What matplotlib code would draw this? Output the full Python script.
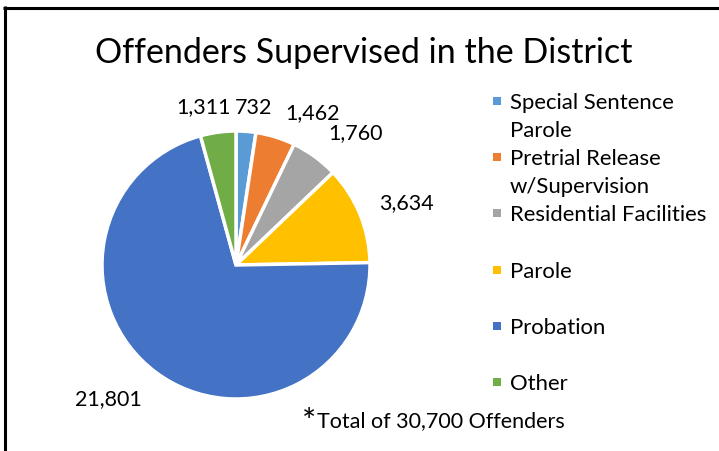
import matplotlib
matplotlib.use("Agg")
import matplotlib.pyplot as plt
from matplotlib.patches import Rectangle
from matplotlib.lines import Line2D
import numpy as np

# ---- data ----
categories = ["Special Sentence\nParole", "Pretrial Release\nw/Supervision",
              "Residential Facilities", "Parole", "Probation", "Other"]
values = [732, 1462, 1760, 3634, 21801, 1311]
colors = ["#5B9BD5", "#ED7D31", "#A5A5A5", "#FFC000", "#4472C4", "#70AD47"]
title = "Offenders Supervised in the District"
total_offenders = 30700

# data label placement: (angle clockwise from top [deg], distance in pie radii)
label_pos = [(6.5, 1.18), (26.6, 1.27), (42.3, 1.33), (70.0, 1.35),
             (223.7, 1.38), (348.5, 1.20)]

plt.rcParams["font.family"] = ["Lato", "DejaVu Sans"]

W, H = 719, 451
fig = plt.figure(figsize=(W / 100, H / 100), dpi=100)
fig.patch.set_facecolor("white")

# pie placement in pixels
cx, cy, r = 236, 265, 134
ax = fig.add_axes([(cx - r) / W, (H - cy - r) / H, 2 * r / W, 2 * r / H])
ax.pie(values, colors=colors, startangle=90, counterclock=False, radius=1,
       wedgeprops=dict(edgecolor="white", linewidth=2.5))
ax.set_xlim(-1, 1)
ax.set_ylim(-1, 1)
ax.axis("off")

for v, (ang, d) in zip(values, label_pos):
    th = np.deg2rad(90 - ang)
    ax.text(d * np.cos(th), d * np.sin(th), f"{v:,}", ha="center", va="center",
            fontsize=15.5, color="black")

# title
fig.text(364 / W, 1 - 63 / H, title, ha="center", va="baseline", fontsize=24.5,
         color="black")

# legend (drawn manually to mimic equal slots)
leg_marker_x, leg_text_x, leg_y0, step, line_h = 497, 510, 101, 56.2, 28.3
for i, (lab, col) in enumerate(zip(categories, colors)):
    y = leg_y0 + i * step
    fig.patches.append(Rectangle(((leg_marker_x - 4) / W, 1 - (y + 4) / H),
                                 8 / W, 8 / H, transform=fig.transFigure,
                                 facecolor=col, edgecolor="none"))
    for k, line in enumerate(lab.split("\n")):
        fig.text(leg_text_x / W, 1 - (y + 8 + k * line_h) / H, line,
                 ha="left", va="baseline", fontsize=15.9, color="black")

# footnote
fig.text(302 / W, 1 - 432 / H, "*", ha="left", va="baseline", fontsize=24,
         color="black")
fig.text(317 / W, 1 - 427 / H, f"Total of {total_offenders:,} Offenders",
         ha="left", va="baseline", fontsize=15.5, color="black")

# frame lines (left and top)
fig.add_artist(Line2D([4.5 / W, 4.5 / W], [0, 1 - 6 / H], color="black",
                      linewidth=2.2, transform=fig.transFigure,
                      solid_capstyle="butt"))
fig.add_artist(Line2D([3 / W, 1], [1 - 7.5 / H, 1 - 7.5 / H], color="black",
                      linewidth=2.2, transform=fig.transFigure,
                      solid_capstyle="butt"))

fig.savefig("out.png", dpi=100)
